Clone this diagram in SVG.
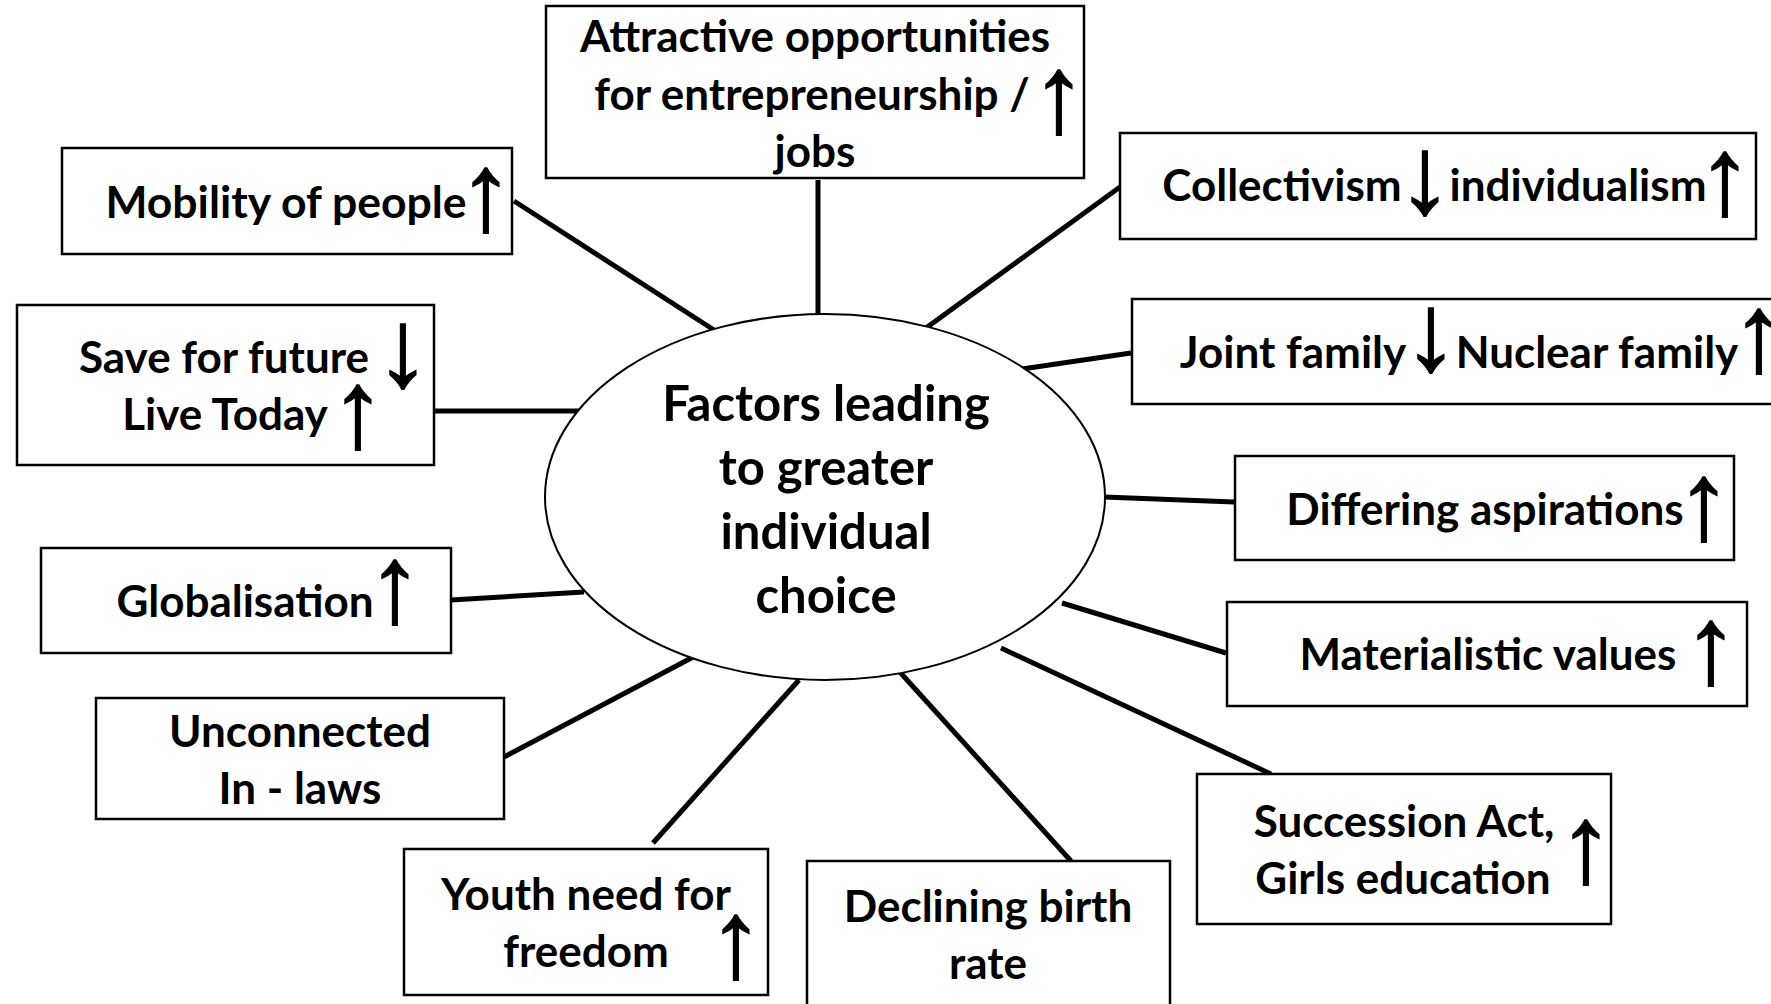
<svg xmlns="http://www.w3.org/2000/svg" width="1771" height="1004" viewBox="0 0 1771 1004">
<style>
.box{fill:#fff;stroke:#000;stroke-width:2.5}
.t{font-family:"Lato","Liberation Sans",sans-serif;font-weight:700;font-size:44px;fill:#000;text-anchor:middle}
.c{font-size:49px}
.a{font-family:"Liberation Sans",sans-serif;font-weight:400;font-size:110px;text-anchor:middle;stroke:#000;stroke-width:1.5}
.ln{stroke:#000;stroke-width:5;fill:none}
</style>
<rect width="1771" height="1004" fill="#fff"/>
<g id="connectors">
<line class="ln" x1="514" y1="201" x2="714" y2="330"/>
<line class="ln" x1="818" y1="180" x2="818" y2="314"/>
<line class="ln" x1="1120" y1="187" x2="926" y2="328"/>
<line class="ln" x1="1131" y1="353" x2="1022" y2="369"/>
<line class="ln" x1="434" y1="411" x2="584" y2="411"/>
<line class="ln" x1="1104" y1="497" x2="1234" y2="502"/>
<line class="ln" x1="451" y1="600" x2="584" y2="592"/>
<line class="ln" x1="1062" y1="603" x2="1226" y2="653"/>
<line class="ln" x1="504" y1="757" x2="697" y2="655"/>
<line class="ln" x1="1001" y1="648" x2="1271" y2="774"/>
<line class="ln" x1="653" y1="843" x2="799" y2="680"/>
<line class="ln" x1="898" y1="670" x2="1071" y2="861"/>
</g>
<g id="center">
<ellipse cx="825" cy="497" rx="280" ry="183" fill="#fff" stroke="#000" stroke-width="2"/>
<text class="t c"><tspan x="826" y="421">Factors leading</tspan><tspan x="826" y="485">to greater</tspan><tspan x="826" y="549">individual</tspan><tspan x="826" y="613">choice</tspan></text>
</g>
<g id="n-attractive">
<rect class="box" x="546" y="6" width="538" height="172"/>
<text class="t"><tspan x="815" y="52">Attractive opportunities</tspan><tspan x="812" y="110">for entrepreneurship /</tspan><tspan x="815" y="167">jobs</tspan><tspan class="a" x="1059" y="132">↑</tspan></text>
</g>
<g id="n-mobility">
<rect class="box" x="62" y="148" width="450" height="106"/>
<text class="t"><tspan x="286" y="218" style="font-size:44.5px">Mobility of people</tspan><tspan class="a" x="486" y="230">↑</tspan></text>
</g>
<g id="n-collectivism">
<rect class="box" x="1120" y="133" width="636" height="106"/>
<text class="t"><tspan x="1282" y="201">Collectivism</tspan><tspan class="a" x="1425" y="213">↓</tspan><tspan x="1578" y="201">individualism</tspan><tspan class="a" x="1725" y="214">↑</tspan></text>
</g>
<g id="n-joint">
<rect class="box" x="1132" y="299" width="660" height="105"/>
<text class="t"><tspan x="1293" y="368">Joint family</tspan><tspan class="a" x="1431" y="370">↓</tspan><tspan x="1597" y="368">Nuclear family</tspan><tspan class="a" x="1759" y="371">↑</tspan></text>
</g>
<g id="n-save">
<rect class="box" x="17" y="305" width="417" height="160"/>
<text class="t"><tspan x="224" y="373">Save for future</tspan><tspan class="a" x="403" y="386">↓</tspan><tspan x="225" y="430">Live Today</tspan><tspan class="a" x="358" y="447">↑</tspan></text>
</g>
<g id="n-differing">
<rect class="box" x="1235" y="456" width="499" height="104"/>
<text class="t"><tspan x="1485" y="525">Differing aspirations</tspan><tspan class="a" x="1704" y="539">↑</tspan></text>
</g>
<g id="n-globalisation">
<rect class="box" x="41" y="548" width="410" height="105"/>
<text class="t"><tspan x="245" y="617">Globalisation</tspan><tspan class="a" x="395" y="622">↑</tspan></text>
</g>
<g id="n-materialistic">
<rect class="box" x="1227" y="602" width="520" height="104"/>
<text class="t"><tspan x="1488" y="670">Materialistic values</tspan><tspan class="a" x="1711" y="683">↑</tspan></text>
</g>
<g id="n-unconnected">
<rect class="box" x="96" y="698" width="408" height="121"/>
<text class="t"><tspan x="300" y="747">Unconnected</tspan><tspan x="300" y="804">In - laws</tspan></text>
</g>
<g id="n-succession">
<rect class="box" x="1197" y="774" width="414" height="150"/>
<text class="t"><tspan x="1404" y="837">Succession Act,</tspan><tspan x="1403" y="894">Girls education</tspan><tspan class="a" x="1586" y="882">↑</tspan></text>
</g>
<g id="n-youth">
<rect class="box" x="404" y="849" width="364" height="146"/>
<text class="t"><tspan x="586" y="910">Youth need for</tspan><tspan x="586" y="967">freedom</tspan><tspan class="a" x="736" y="977">↑</tspan></text>
</g>
<g id="n-declining">
<rect class="box" x="807" y="861" width="363" height="160"/>
<text class="t"><tspan x="988" y="922">Declining birth</tspan><tspan x="988" y="979">rate</tspan></text>
</g>
</svg>
